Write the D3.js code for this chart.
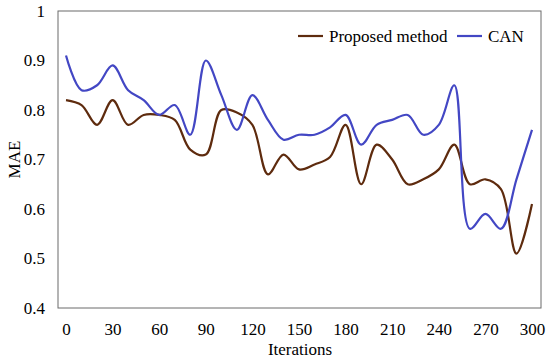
<!DOCTYPE html>
<html>
<head>
<meta charset="utf-8">
<script src="https://cdn.jsdelivr.net/npm/d3@7"></script>
<style>
  body { margin: 0; background: #fff; }
  text { font-family: "Liberation Serif", "Times New Roman", serif; fill: #000; }
</style>
</head>
<body>
<div id="chart"></div>
<script>
// iterations, one point every 10
const iterations = d3.range(0, 301, 10)
const proposed = [0.82, 0.81, 0.77, 0.82, 0.77, 0.79, 0.79, 0.78, 0.72, 0.71,
    0.80, 0.795, 0.77, 0.67, 0.71, 0.68, 0.69, 0.705, 0.77, 0.65,
    0.73, 0.70, 0.65, 0.66, 0.68, 0.73, 0.65, 0.66, 0.64, 0.51, 0.61]
const can = [0.91, 0.84, 0.85, 0.89, 0.84, 0.82, 0.79, 0.81, 0.75, 0.90,
    0.83, 0.76, 0.83, 0.78, 0.74, 0.75, 0.75, 0.765, 0.79, 0.73,
    0.77, 0.78, 0.79, 0.75, 0.77, 0.85, 0.56, 0.59, 0.56, 0.66, 0.76]
const xTicks = d3.range(0, 301, 30)
const yTicks = [0.4, 0.5, 0.6, 0.7, 0.8, 0.9, 1]

const series = [
    { name: "Proposed method", values: proposed, color: "#5e2b0e" },
    { name: "CAN", values: can, color: "#4347c4" }
]

const width = 550
const height = 362
const box = { left: 58, right: 541, top: 11, bottom: 308 }
const fontSize = "17px"

const svg = d3.select("#chart").append("svg")
    .attr("width", width)
    .attr("height", height)

const x = d3.scaleLinear().domain([0, 300]).range([66, 532])
const y = d3.scaleLinear().domain([0.4, 1]).range([box.bottom, box.top])

//frame round the plot
svg.append("rect")
    .attr("x", box.left)
    .attr("y", box.top)
    .attr("width", box.right - box.left)
    .attr("height", box.bottom - box.top)
    .attr("fill", "none")
    .attr("stroke", "#6b6b6b")
    .attr("stroke-width", 1)

//axes, no tick marks, just labels
const xAxis = svg.append("g")
    .attr("transform", `translate(0, ${box.bottom})`)
    .call(d3.axisBottom(x).tickValues(xTicks).tickSize(0).tickPadding(15))
xAxis.select(".domain").remove()

const yAxis = svg.append("g")
    .attr("transform", `translate(${box.left}, 0)`)
    .call(d3.axisLeft(y).tickValues(yTicks).tickSize(0).tickPadding(13)
        .tickFormat(d => d === 1 ? "1" : d3.format(".1f")(d)))
yAxis.select(".domain").remove()

svg.selectAll(".tick text")
    .style("font-family", '"Liberation Serif", serif')
    .style("font-size", fontSize)
    .attr("fill", "#000")

//axis titles
svg.append("text")
    .attr("text-anchor", "middle")
    .attr("x", 300)
    .attr("y", 355)
    .style("font-size", fontSize)
    .text("Iterations")

svg.append("text")
    .attr("text-anchor", "middle")
    .attr("transform", `translate(20, ${(box.top + box.bottom) / 2}) rotate(-90)`)
    .style("font-size", fontSize)
    .text("MAE")

//smoothed lines like the spreadsheet ones
const line = d3.line()
    .x((d, i) => x(iterations[i]))
    .y(d => y(d))
    .curve(d3.curveCatmullRom.alpha(0.5))

svg.append("g").selectAll("path")
    .data(series)
    .join("path")
    .attr("d", d => line(d.values))
    .attr("fill", "none")
    .attr("stroke", d => d.color)
    .attr("stroke-width", 2.2)

//legend
const legendPos = [298, 457]
const legend = svg.append("g").selectAll("g")
    .data(series)
    .join("g")
    .attr("transform", (d, i) => `translate(${legendPos[i]}, 36)`)
legend.append("line")
    .attr("x1", 0).attr("x2", 25)
    .attr("stroke", d => d.color)
    .attr("stroke-width", 2.2)
legend.append("text")
    .attr("x", 31)
    .attr("y", 6)
    .style("font-size", fontSize)
    .text(d => d.name)
</script>
</body>
</html>
